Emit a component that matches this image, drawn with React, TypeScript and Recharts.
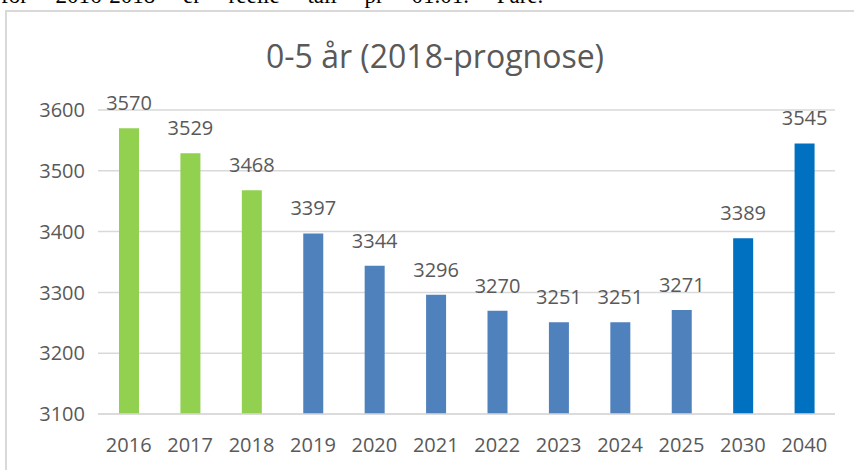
import React from 'react'
import { BarChart, Bar, XAxis, YAxis, CartesianGrid, LabelList, Cell } from 'recharts'

const years = ['2016', '2017', '2018', '2019', '2020', '2021', '2022', '2023', '2024', '2025', '2030', '2040']
const children = [3570, 3529, 3468, 3397, 3344, 3296, 3270, 3251, 3251, 3271, 3389, 3545]
const yTicks = [3100, 3200, 3300, 3400, 3500, 3600]

const GREEN = '#92d050'
const MID_BLUE = '#4f81bd'
const BLUE = '#0070c0'

const barColor = (year: string) => {
  const y = Number(year)
  if (y <= 2018) return GREEN
  if (y <= 2025) return MID_BLUE
  return BLUE
}

const data = years.map((year, i) => ({ year, value: children[i] }))

const font = '"Open Sans", sans-serif'
const textColor = '#595959'

const App: React.FC = () => {
  return (
    <div style={{ position: 'fixed', left: 0, top: 0, width: 854, height: 470, overflow: 'hidden', background: '#fff' }}>
      <div
        style={{
          position: 'absolute',
          left: 1,
          top: -17,
          fontFamily: '"Liberation Serif", serif',
          fontSize: 23,
          lineHeight: '26px',
          wordSpacing: 22,
          color: '#000',
          whiteSpace: 'nowrap',
        }}
      >
        for 2016-2018 er reelle tall pr 01.01. Pare.
      </div>
      <div
        style={{
          position: 'absolute',
          left: 5,
          top: 10,
          width: 900,
          height: 500,
          border: '2px solid #d9d9d9',
        }}
      />
      <div
        style={{
          position: 'absolute',
          left: 0,
          width: 870,
          top: 34,
          lineHeight: '44px',
          textAlign: 'center',
          fontFamily: font,
          fontSize: 32,
          color: textColor,
        }}
      >
        0-5 år (2018-prognose)
      </div>
      <div style={{ position: 'absolute', left: 0, top: 0 }}>
        <BarChart width={854} height={470} data={data} margin={{ top: 110, right: 19, left: 0, bottom: 0 }}>
          <CartesianGrid vertical={false} stroke="#d9d9d9" strokeWidth={1.5} />
          <XAxis
            dataKey="year"
            height={56}
            tickLine={false}
            axisLine={{ stroke: '#d9d9d9', strokeWidth: 1.5 }}
            tickSize={0}
            tickMargin={24}
            interval={0}
            tick={{ fill: textColor, fontFamily: font, fontSize: 20 }}
          />
          <YAxis
            width={98}
            domain={[3100, 3600]}
            ticks={yTicks}
            allowDataOverflow
            tickLine={false}
            axisLine={false}
            tickSize={0}
            tickMargin={13}
            tick={{ fill: textColor, fontFamily: font, fontSize: 20 }}
          />
          <Bar dataKey="value" barSize={20} isAnimationActive={false}>
            {data.map((d) => (
              <Cell key={d.year} fill={barColor(d.year)} />
            ))}
            <LabelList
              dataKey="value"
              position="top"
              offset={18}
              fill={textColor}
              style={{ fontFamily: font, fontSize: 20 }}
            />
          </Bar>
        </BarChart>
      </div>
    </div>
  )
}

export default App
